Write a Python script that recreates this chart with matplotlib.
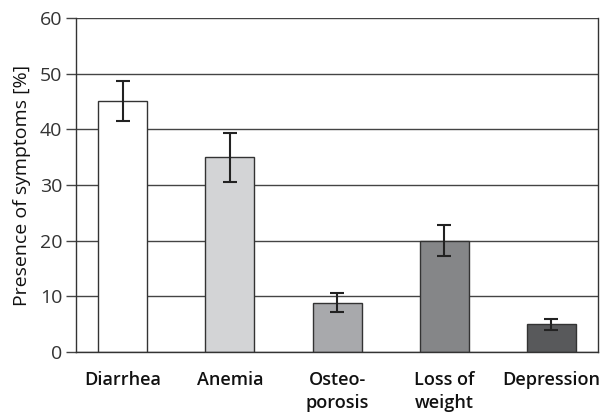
import numpy as np
import matplotlib
matplotlib.use("Agg")
import matplotlib.pyplot as plt

# data
categories = ["Diarrhea", "Anemia", "Osteo-\nporosis", "Loss of\nweight", "Depression"]
values = [45.0, 35.0, 8.8, 20.0, 5.0]
errors = [3.6, 4.4, 1.7, 2.8, 1.0]
colors = ["#ffffff", "#d3d4d6", "#a8a9ac", "#858688", "#58595b"]
yticks = [0, 10, 20, 30, 40, 50, 60]

plt.rcParams['font.family'] = ['Open Sans', 'DejaVu Sans']

fig = plt.figure(figsize=(6.03, 4.17), dpi=100)
ax = fig.add_axes([0.126, 0.156, 0.866, 0.801])

x = np.arange(len(categories))
ax.bar(x, values, width=0.457, color=colors, edgecolor="#333333", linewidth=1.0, zorder=2)
ax.errorbar(x, values, yerr=errors, fmt="none", ecolor="#222222",
            elinewidth=1.5, capsize=5, capthick=1.5, zorder=3)

ax.set_xlim(-0.437, 4.437)
ax.set_ylim(0, 60)
ax.set_yticks(yticks)
ax.yaxis.grid(True, color="#444444", linewidth=1.0, zorder=0)
ax.set_axisbelow(True)

ax.set_xticks(x)
ax.set_xticklabels(categories, fontsize=13, fontweight="semibold", color="#111111",
                   va="top", linespacing=1.35)
ax.tick_params(axis="x", length=0, pad=14)
ax.tick_params(axis="y", length=7, width=1, color="#444444", labelsize=14,
               labelcolor="#333333", pad=3)

for s in ["left", "bottom", "right"]:
    ax.spines[s].set_color("#333333")
    ax.spines[s].set_linewidth(1.0)
ax.spines["top"].set_visible(False)

ax.set_ylabel("Presence of symptoms [%]", fontsize=14, color="#111111", labelpad=6)

fig.savefig("out.png", dpi=100)
